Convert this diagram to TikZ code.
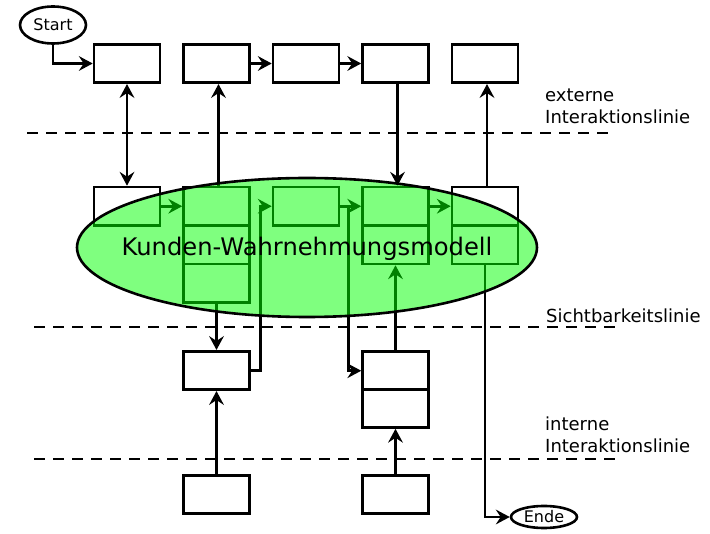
\documentclass[tikz,border=0pt]{standalone}
\usepackage{fontspec}
\setmainfont{DejaVu Sans}
\usetikzlibrary{arrows.meta,shapes.geometric}

\definecolor{kundengruen}{RGB}{0,255,0}

\tikzset{
  thickline/.style={line width=2.6pt},
  tip/.tip={Stealth[length=14pt,width=15pt,inset=5pt,line width=0pt]},
  arr/.style={thickline,-tip},
  darr/.style={thickline,tip-tip},
  box/.style={draw,rectangle,minimum width=66pt,minimum height=38.5pt,inner sep=0pt,thickline},
  terminal/.style={draw,ellipse,inner sep=0pt,thickline,font=\fontsize{16pt}{18pt}\selectfont},
  linelabel/.style={anchor=west,align=left,inner sep=0pt,font=\fontsize{18pt}{22pt}\selectfont},
  divider/.style={thickline,dash pattern=on 11pt off 8pt}
}

\begin{document}
\begin{tikzpicture}[x=1pt,y=-1pt]
\useasboundingbox (0,0) rectangle (710,534);

% start / end terminals
\node[terminal,minimum width=66pt,minimum height=37pt] (start) at (53,25) {Start};
\node[terminal,minimum width=66pt,minimum height=22pt] (ende) at (544,517) {Ende};

% row 1
\node[box] (r1c1) at (127,63.5) {};
\node[box] (r1c2) at (216.5,63.5) {};
\node[box] (r1c3) at (306,63.5) {};
\node[box] (r1c4) at (395.5,63.5) {};
\node[box] (r1c5) at (485,63.5) {};

% row 2
\node[box] (r2c1) at (127,206.25) {};
\node[box] (r2c2a) at (216.5,206.25) {};
\node[box] (r2c2b) at (216.5,244.75) {};
\node[box] (r2c2c) at (216.5,283.25) {};
\node[box] (r2c3) at (306,206.25) {};
\node[box] (r2c4a) at (395.5,206.25) {};
\node[box] (r2c4b) at (395.5,244.75) {};
\node[box] (r2c5a) at (485,206.25) {};
\node[box] (r2c5b) at (485,244.75) {};

% row 3
\node[box] (r3c2) at (216.5,370.5) {};
\node[box] (r3c4a) at (395.5,370.75) {};
\node[box] (r3c4b) at (395.5,408.25) {};

% row 4
\node[box] (r4c2) at (216.5,494.5) {};
\node[box] (r4c4) at (395.5,494.5) {};

% dividing lines
\coordinate (l1a) at (27,133);  \coordinate (l1b) at (613,133);
\coordinate (l2a) at (34,327);  \coordinate (l2b) at (622,327);
\coordinate (l3a) at (34,459);  \coordinate (l3b) at (622,459);
\draw[divider] (l1a) -- (l1b);
\draw[divider] (l2a) -- (l2b);
\draw[divider] (l3a) -- (l3b);

% connectors, row 1
\draw[arr] (start.south) |- (r1c1.west);
\draw[arr] (r1c2.east) -- (r1c3.west);
\draw[arr] (r1c3.east) -- (r1c4.west);

% between row 1 and row 2
\draw[darr] (r1c1.south) -- (r2c1.north);
\draw[arr] ([xshift=2pt]r2c2a.north) -- ([xshift=2pt]r1c2.south);
\draw[arr] ([xshift=2pt]r1c4.south) -- ([xshift=2pt]r2c4a.north);
\draw[arr] ([xshift=2pt]r2c5a.north) -- ([xshift=2pt]r1c5.south);

% row 2
\draw[arr] (r2c1.east) -- (r2c2a.west);
\draw[arr] (r2c3.east) -- (r2c4a.west);
\draw[arr] (r2c4a.east) -- (r2c5a.west);
\draw[arr] (r3c2.east) -| ([xshift=-11pt]r2c3.west) -- (r2c3.west);
\draw[arr] (r2c3.east) -| ([xshift=-13pt]r3c4a.west) -- (r3c4a.west);

% between row 2 and row 3
\draw[arr] (r2c2c.south) -- (r3c2.north);
\draw[arr] (r3c4a.north) -- (r2c4b.south);
\draw[arr] (r2c5b.south) |- (ende.west);

% between row 4 and row 3
\draw[arr] (r4c2.north) -- (r3c2.south);
\draw[arr] (r4c4.north) -- (r3c4b.south);

% customer perception model
\node[draw,ellipse,thickline,fill=kundengruen,fill opacity=0.5,
      minimum width=460pt,minimum height=139pt,inner sep=0pt] (modell) at (307,247.5) {};
\node[inner sep=0pt,font=\fontsize{24.2pt}{27pt}\selectfont] (modelltext) at (307,249) {Kunden-Wahrnehmungsmodell};

% line labels
\node[linelabel] (ext) at (545,106) {externe\\Interaktionslinie};
\node[linelabel] (sicht) at (546,316) {Sichtbarkeitslinie};
\node[linelabel] (int) at (545,435) {interne\\Interaktionslinie};
\end{tikzpicture}
\end{document}
